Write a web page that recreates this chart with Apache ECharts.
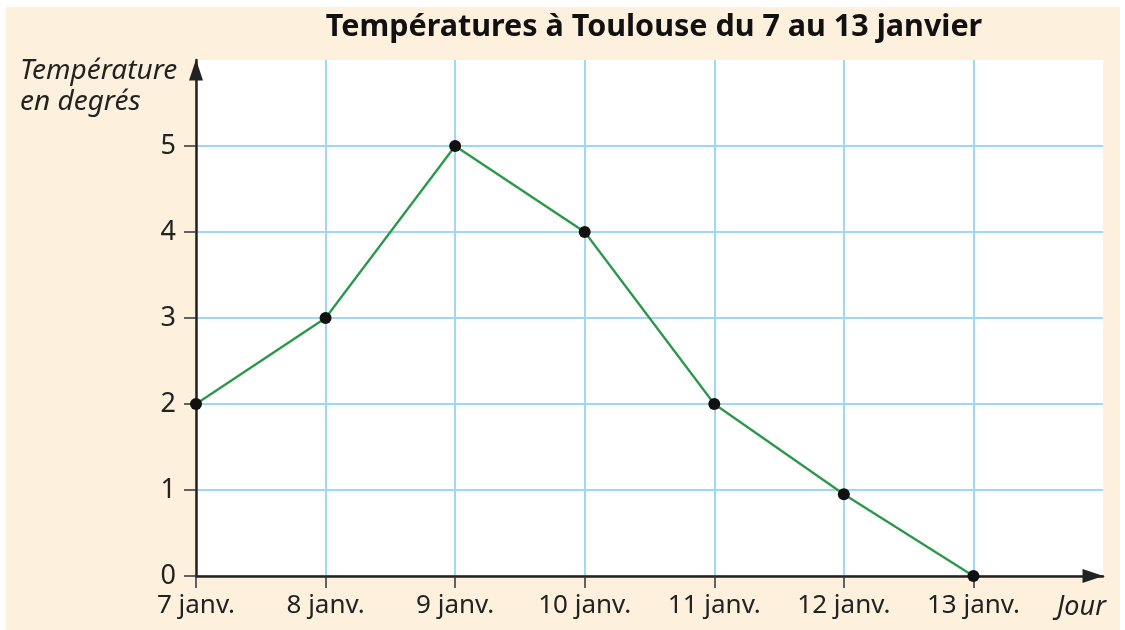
<!DOCTYPE html>
<html>
<head>
<meta charset="utf-8">
<script src="https://cdn.jsdelivr.net/npm/echarts@6/dist/echarts.min.js"></script>
<style>
  html, body { margin: 0; padding: 0; background: #ffffff; }
  #chart { width: 1125px; height: 630px; }
</style>
</head>
<body>
<div id="chart"></div>
<script>
// jours (abscisse) et températures relevées
const days = ['7 janv.', '8 janv.', '9 janv.', '10 janv.', '11 janv.', '12 janv.', '13 janv.'];
const temps = [2, 3, 5, 4, 2, 0.95, 0];
const yTicks = [0, 1, 2, 3, 4, 5];

const chart = echarts.init(document.getElementById('chart'));
const font = '"Noto Sans", sans-serif';
const xTicks = days.map((d, i) => i);

const option = {
  backgroundColor: '#ffffff',
  animation: false,
  title: {
    text: 'Températures à Toulouse du 7 au 13 janvier',
    left: 649,
    top: 7,
    textAlign: 'center',
    textStyle: { fontFamily: font, fontSize: 30.5, fontWeight: 'bold', color: '#111' }
  },
  graphic: [
    { type: 'rect', z: -10, shape: { x: 6, y: 7, width: 1114, height: 623 }, style: { fill: '#fdf0dd' } },
    { type: 'rect', z: -9, shape: { x: 196, y: 60, width: 907, height: 516 }, style: { fill: '#ffffff' } },
    { type: 'text', left: 20, top: 56, style: { text: 'Température\nen degrés', font: 'italic 28px "Noto Sans"', fill: '#222', lineHeight: 31 } },
    { type: 'text', left: 1057, top: 594, style: { text: 'Jour', font: 'italic 27px "Noto Sans"', fill: '#222' } }
  ],
  grid: { left: 196, right: 22, top: 60, bottom: 54 },
  xAxis: {
    type: 'value',
    min: 0,
    max: 7,
    interval: 1,
    axisLine: {
      lineStyle: { color: '#222', width: 2.5 },
      symbol: ['none', 'triangle'],
      symbolSize: [14, 21],
      symbolOffset: [0, -10]
    },
    axisTick: { length: 12, customValues: xTicks, lineStyle: { color: '#333', width: 1.5 } },
    axisLabel: {
      margin: 17,
      fontFamily: font,
      fontSize: 26,
      color: '#222',
      customValues: xTicks,
      formatter: v => days[v]
    },
    splitLine: { show: true, lineStyle: { color: '#9fd8f3', width: 2 } }
  },
  yAxis: {
    type: 'value',
    min: 0,
    max: 6,
    interval: 1,
    axisLine: {
      lineStyle: { color: '#222', width: 2.5 },
      symbol: ['none', 'triangle'],
      symbolSize: [14, 21],
      symbolOffset: [0, -10]
    },
    axisTick: { length: 12, customValues: yTicks, lineStyle: { color: '#333', width: 1.5 } },
    axisLabel: {
      margin: 20,
      fontFamily: font,
      fontSize: 27,
      color: '#222',
      customValues: yTicks
    },
    splitLine: { show: true, lineStyle: { color: '#9fd8f3', width: 2 } }
  },
  series: [
    {
      type: 'line',
      data: temps.map((t, i) => [i, t]),
      symbol: 'circle',
      symbolSize: 12,
      itemStyle: { color: '#111' },
      lineStyle: { color: '#2a984a', width: 2.3 },
      z: 5
    }
  ]
};

chart.setOption(option);
</script>
</body>
</html>
